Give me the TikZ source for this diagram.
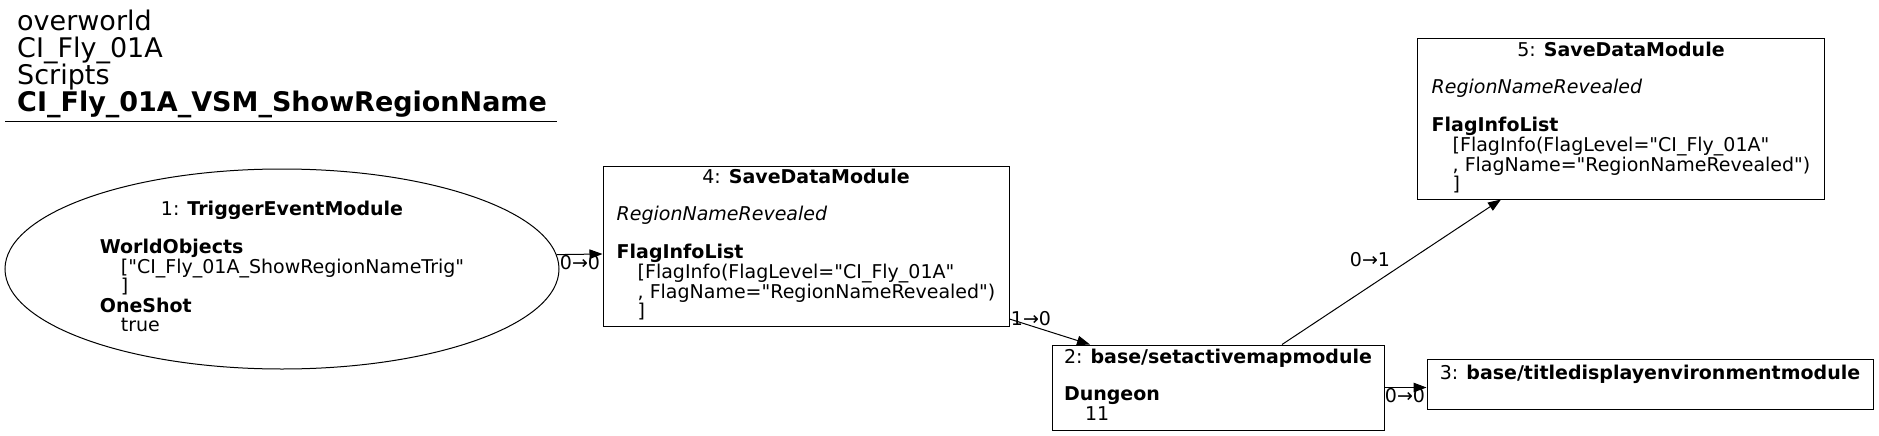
\documentclass[tikz,border=0pt]{standalone}
\usepackage{fontspec}
\setmainfont{DejaVu Sans}[Ligatures=TeXOff]
\usetikzlibrary{arrows.meta,shapes.geometric}

\begin{document}
\begin{tikzpicture}[x=1pt,y=-1pt,>={Triangle[length=13pt,width=9.5pt]},
        box/.style={draw,rectangle,inner sep=0pt,line width=1pt,font=\fontsize{19}{17.8}\selectfont},
        elabel/.style={inner sep=0pt,font=\fontsize{19}{17.8}\selectfont}]
    \useasboundingbox (0,0) rectangle (1879,436);
    % title
    \node[anchor=north west,align=left,inner sep=0pt,font=\fontsize{27}{27}\selectfont] (title) at (17,10)
        {overworld\\CI\_Fly\_01A\\Scripts\\\textbf{CI\_Fly\_01A\_VSM\_ShowRegionName}};
    \draw[line width=1pt] (5,121) -- (557,121);
    % modules
    \node[box,ellipse,minimum width=554pt,minimum height=200pt] (n1) at (282,269) {%
        \begin{tabular}{@{}l@{}}
        \multicolumn{1}{@{}c@{}}{1: \textbf{TriggerEventModule}}\\
        \\
        \textbf{WorldObjects}\\
        \hspace*{21pt}["CI\_Fly\_01A\_ShowRegionNameTrig"\\
        \hspace*{21pt}]\\
        \textbf{OneShot}\\
        \hspace*{21pt}true
        \end{tabular}};
    \node[box,minimum width=406pt,minimum height=160pt] (n4) at (806,246) {%
        \begin{tabular}{@{}l@{}}
        \multicolumn{1}{@{}c@{}}{4: \textbf{SaveDataModule}}\\
        \\
        \textit{RegionNameRevealed}\\
        \\
        \textbf{FlagInfoList}\\
        \hspace*{21pt}[FlagInfo(FlagLevel="CI\_Fly\_01A"\\
        \hspace*{21pt}, FlagName="RegionNameRevealed")\\
        \hspace*{21pt}]
        \end{tabular}};
    \node[box,minimum width=407pt,minimum height=160pt] (n5) at (1621,119) {%
        \begin{tabular}{@{}l@{}}
        \multicolumn{1}{@{}c@{}}{5: \textbf{SaveDataModule}}\\
        \\
        \textit{RegionNameRevealed}\\
        \\
        \textbf{FlagInfoList}\\
        \hspace*{21pt}[FlagInfo(FlagLevel="CI\_Fly\_01A"\\
        \hspace*{21pt}, FlagName="RegionNameRevealed")\\
        \hspace*{21pt}]
        \end{tabular}};
    \node[box,minimum width=332pt,minimum height=85pt] (n2) at (1218,387.5) {%
        \begin{tabular}{@{}l@{}}
        2: \textbf{base/setactivemapmodule}\\
        \\
        \textbf{Dungeon}\\
        \hspace*{21pt}11
        \end{tabular}};
    \node[box,minimum width=446pt,minimum height=50pt] (n3) at (1650,384) {%
        \begin{tabular}{@{}l@{}}
        3: \textbf{base/titledisplayenvironmentmodule}\\
        \\
        \end{tabular}};
    % links
    \draw[->,line width=1pt] (n1.3) -- ([yshift=-8pt]n4.west);
    \node[elabel] (l14) at (580,263) {0→0};
    \draw[->,line width=1pt] ([yshift=-73pt]n4.east) -- ([xshift=-128pt]n2.north);
    \node[elabel] (l42) at (1031,319) {1→0};
    \draw[->,line width=1pt] ([xshift=64pt]n2.north) -- ([xshift=-120pt]n5.south);
    \node[elabel] (l25) at (1370,260) {0→1};
    \draw[->,line width=1pt] (n2.east) -- (n3.west |- n2.east);
    \node[elabel] (l23) at (1405,396) {0→0};
\end{tikzpicture}
\end{document}
